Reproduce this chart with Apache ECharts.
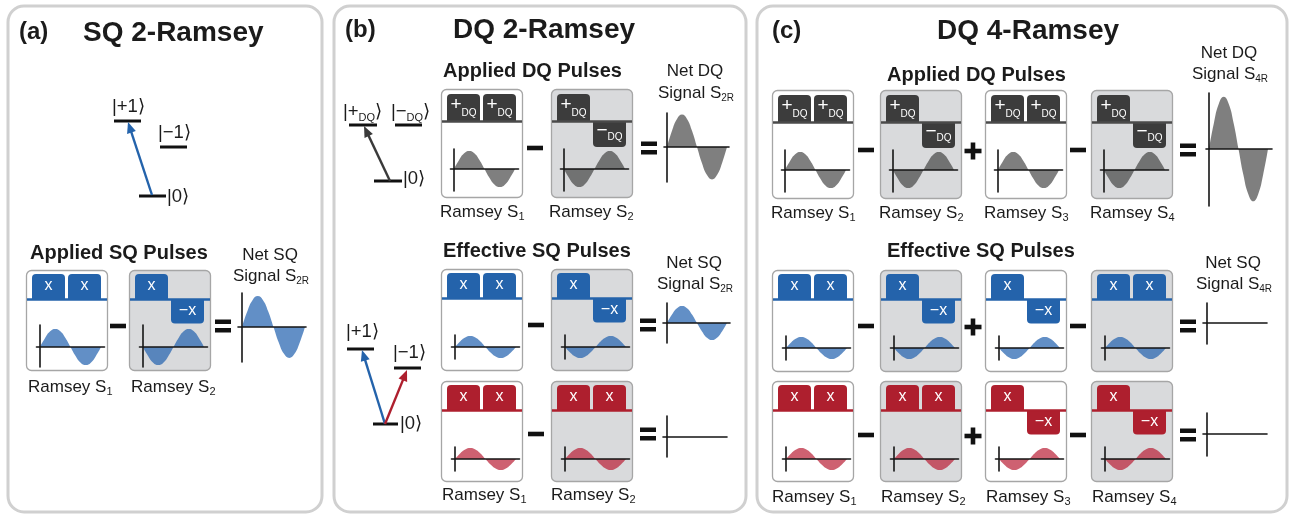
<!DOCTYPE html>
<html>
<head>
<meta charset="utf-8">
<script src="https://cdn.jsdelivr.net/npm/echarts@6/dist/echarts.min.js"></script>
<style>
  html, body { margin: 0; padding: 0; background: #fff; }
  #chart { width: 1292px; height: 515px; }
</style>
</head>
<body>
<div id="chart"></div>
<script>
// Phase samples along one fringe period (twelfths of a period)
const phase = [0, 1, 2, 3, 4, 5, 6, 7, 8, 9, 10, 11, 12];

// Ramsey fringe traces, in units of one single-sequence fringe amplitude
const ramseyUp   = [0, 0.5, 0.87, 1, 0.87, 0.5, 0, -0.5, -0.87, -1, -0.87, -0.5, 0];
const ramseyDown = [0, -0.5, -0.87, -1, -0.87, -0.5, 0, 0.5, 0.87, 1, 0.87, 0.5, 0];
const effUp      = [0, 0.31, 0.53, 0.61, 0.53, 0.31, 0, -0.31, -0.53, -0.61, -0.53, -0.31, 0];
const effDown    = [0, -0.31, -0.53, -0.61, -0.53, -0.31, 0, 0.31, 0.53, 0.61, 0.53, 0.31, 0];
const netSQ2Ra   = [0, 0.86, 1.49, 1.72, 1.49, 0.86, 0, -0.86, -1.49, -1.72, -1.49, -0.86, 0];
const netDQ2R    = [0, 0.9, 1.56, 1.8, 1.56, 0.9, 0, -0.9, -1.56, -1.8, -1.56, -0.9, 0];
const netSQ2Rb   = [0, 0.47, 0.82, 0.95, 0.82, 0.47, 0, -0.47, -0.82, -0.95, -0.82, -0.47, 0];
const netDQ4R    = [0, 1.45, 2.51, 2.9, 2.51, 1.45, 0, -1.45, -2.51, -2.9, -2.51, -1.45, 0];
const netNull    = [0, 0, 0, 0, 0, 0, 0, 0, 0, 0, 0, 0, 0];

// Pulse sequences of each Ramsey measurement, and the traces they give
const seqA      = [['x', 'x'], ['x', '−x']];
const traceA    = [ramseyUp, ramseyDown];
const seqB_DQ   = [['+DQ', '+DQ'], ['+DQ', '−DQ']];
const traceB_DQ = [ramseyUp, ramseyDown];
const seqB_blue = [['x', 'x'], ['x', '−x']];
const traceB_blue = [effUp, effDown];
const seqB_red  = [['x', 'x'], ['x', 'x']];
const traceB_red = [effUp, effUp];
const seqC_DQ   = [['+DQ', '+DQ'], ['+DQ', '−DQ'], ['+DQ', '+DQ'], ['+DQ', '−DQ']];
const traceC_DQ = [ramseyUp, ramseyDown, ramseyUp, ramseyDown];
const seqC_blue = [['x', 'x'], ['x', '−x'], ['x', '−x'], ['x', 'x']];
const traceC_blue = [effUp, effDown, effDown, effUp];
const seqC_red  = [['x', 'x'], ['x', 'x'], ['x', '−x'], ['x', '−x']];
const traceC_red = [effUp, effUp, effDown, effDown];
const ops2 = ['−', '='];
const ops4 = ['−', '+', '−', '='];

const FONT = '"Liberation Sans", Arial, Helvetica, "DejaVu Sans", sans-serif';
const TXT = '#1b1b1b';
const COL = { blue: '#2463ab', red: '#ae1f2e', dark: '#3c3c3c' };
const LINECOL = { blue: '#2463ab', red: '#ae1f2e', dark: '#4a4a4a' };
const FILL = { blue: 'rgba(38,100,176,0.72)', red: 'rgba(185,30,52,0.70)', dark: 'rgba(55,55,55,0.64)' };
const AMP = 18; // pixels per fringe-amplitude unit

const G = [];
const grids = [], xAxes = [], yAxes = [], series = [];

const mctx = document.createElement('canvas').getContext('2d');
function tw(str, size, bold) {
  mctx.font = (bold ? 'bold ' : '') + size + 'px ' + FONT;
  return mctx.measureText(str).width;
}

// text made of runs with their own size and vertical offset (for subscripts)
function runs(x, y, parts, opt) {
  opt = opt || {};
  const widths = parts.map(p => tw(p.t, p.s, p.b));
  const total = widths.reduce((a, b) => a + b, 0);
  let cx = opt.align === 'center' ? x - total / 2 : x;
  parts.forEach((p, i) => {
    G.push({
      type: 'text', z: 20, silent: true,
      style: {
        text: p.t, x: cx, y: y + (p.dy || 0),
        fontSize: p.s, fontFamily: FONT, fontWeight: p.b ? 'bold' : 'normal',
        fill: opt.color || TXT,
        align: 'left', verticalAlign: 'middle', textAlign: 'left', textVerticalAlign: 'middle'
      }
    });
    cx += widths[i];
  });
}

function rect(x, y, w, h, fill, r, z, stroke, lw) {
  G.push({
    type: 'rect', z: z || 1, silent: true,
    shape: { x: x, y: y, width: w, height: h, r: r || 0 },
    style: { fill: fill, stroke: stroke || null, lineWidth: lw || 0 }
  });
}

function line(x1, y1, x2, y2, color, lw, z) {
  G.push({ type: 'line', z: z || 3, silent: true, shape: { x1, y1, x2, y2 }, style: { stroke: color, lineWidth: lw } });
}

function arrow(x1, y1, x2, y2, color) {
  const dx = x2 - x1, dy = y2 - y1, len = Math.hypot(dx, dy);
  const ux = dx / len, uy = dy / len, hl = 11, hw = 4.6;
  const bx = x2 - ux * hl, by = y2 - uy * hl;
  line(x1, y1, bx + ux * 2, by + uy * 2, color, 2.4, 3);
  G.push({
    type: 'polygon', z: 3, silent: true,
    shape: { points: [[x2, y2], [bx - uy * hw, by + ux * hw], [bx + uy * hw, by - ux * hw]] },
    style: { fill: color }
  });
}

// one small fringe plot with crossing axes
function plot(X0, Y0, W, L, R, U, D, trace, fill) {
  const i = grids.length;
  const unitX = W / (phase.length - 1);
  grids.push({ left: X0 - L, top: Y0 - U, width: L + W + R, height: U + D });
  const axisBase = {
    gridIndex: i, type: 'value', z: 10,
    axisLine: { show: true, onZero: true, lineStyle: { color: '#151515', width: 1.6 } },
    axisTick: { show: false }, axisLabel: { show: false }, splitLine: { show: false }
  };
  xAxes.push(Object.assign({}, axisBase, { min: -L / unitX, max: (W + R) / unitX }));
  yAxes.push(Object.assign({}, axisBase, { min: -D / AMP, max: U / AMP }));
  series.push({
    type: 'line', xAxisIndex: i, yAxisIndex: i, z: 6,
    data: phase.map((p, k) => [p, trace[k]]),
    smooth: true, symbol: 'none', silent: true,
    lineStyle: { width: 0, opacity: 0 },
    areaStyle: { color: fill, opacity: 1 }
  });
}

function tabLabel(cx, cy, label) {
  if (label === '+DQ' || label === '−DQ') {
    const up = label === '+DQ';
    runs(cx, cy, [{ t: label[0], s: 19, dy: -3 }, { t: 'DQ', s: 10, dy: up ? 5.5 : 3 }], { align: 'center', color: '#fff' });
  } else {
    runs(cx, cy, [{ t: label, s: 16, dy: -1 }], { align: 'center', color: '#fff' });
  }
}

const KIND = {
  sqA: { tabTop: 4, lineY: 29.5, low: 53.5, wx: 14, wy: 77, U: 22, D: 20 },
  eff: { tabTop: 4, lineY: 29.5, low: 53.5, wx: 14, wy: 78, U: 12, D: 12 },
  dq:  { tabTop: 5, lineY: 32.5, low: 58,   wx: 13, wy: 80, U: 20, D: 22 }
};

function ramseyBox(bx, by, h, kindName, seq, trace, tone, gray) {
  const k = KIND[kindName], w = 81;
  rect(bx + 0.5, by + 0.5, w, h, gray ? '#d9dadc' : '#ffffff', 5, 1, '#a6a6a6', 1.3);
  const tCol = COL[tone];
  // first pulse
  rect(bx + 6, by + k.tabTop, 33, k.lineY - k.tabTop, tCol, [4, 4, 0, 0], 2);
  tabLabel(bx + 22.5, by + (k.tabTop + k.lineY) / 2, seq[0]);
  // second pulse: above the line if positive, hanging below if negative
  const neg = seq[1][0] === '−';
  if (neg) {
    rect(bx + 42, by + k.lineY, 33, k.low - k.lineY, tCol, [0, 0, 4, 4], 2);
    tabLabel(bx + 58.5, by + (k.lineY + k.low) / 2, seq[1]);
  } else {
    rect(bx + 42, by + k.tabTop, 33, k.lineY - k.tabTop, tCol, [4, 4, 0, 0], 2);
    tabLabel(bx + 58.5, by + (k.tabTop + k.lineY) / 2, seq[1]);
  }
  rect(bx + 1, by + k.lineY - 1.25, w - 1, 2.5, LINECOL[tone], 0, 2);
  plot(bx + k.wx, by + k.wy, 61, 3.5, 3.5, k.U, k.D, trace, FILL[tone]);
}

function operator(cx, cy, sym) {
  if (sym === '−') rect(cx - 8, cy - 2.3, 16, 4.6, '#111', 0, 4);
  if (sym === '=') { rect(cx - 8, cy - 6.5, 16, 4.5, '#111', 0, 4); rect(cx - 8, cy + 2, 16, 4.5, '#111', 0, 4); }
  if (sym === '+') { rect(cx - 8.5, cy - 2.3, 17, 4.6, '#111', 0, 4); rect(cx - 2.3, cy - 8.5, 4.6, 17, '#111', 0, 4); }
}

function row(xs, by, h, kindName, seqs, traces, tone, opsX, opsY, ops) {
  xs.forEach((bx, i) => ramseyBox(bx, by, h, kindName, seqs[i], traces[i], tone, i % 2 === 1));
  opsX.forEach((ox, i) => operator(ox, opsY + (ops[i] === '+' ? 1 : 0), ops[i]));
}

function ramseyLabels(xs, y) {
  xs.forEach((bx, i) => runs(bx, y, [{ t: 'Ramsey S', s: 17 }, { t: String(i + 1), s: 11, dy: 5 }]));
}

function netLabel(cx, y, kindTxt, sub) {
  runs(cx, y, [{ t: 'Net ' + kindTxt, s: 17 }], { align: 'center' });
  runs(cx + 1, y + 21.5, [{ t: 'Signal S', s: 17 }, { t: sub, s: 10, dy: 5 }], { align: 'center' });
}

function ket(x, y, parts) { runs(x, y, parts); }
const KET = s => [{ t: s, s: 18.5 }];
const KETDQ = sign => [{ t: '|' + sign, s: 18.5 }, { t: 'DQ', s: 11, dy: 6 }, { t: '⟩', s: 18.5 }];

// ---------- panel frames ----------
[[8, 314], [334, 412], [757, 530]].forEach(([x, w]) => {
  G.push({ type: 'rect', z: 0, silent: true, shape: { x: x, y: 6, width: w, height: 506, r: 16 },
    style: { fill: 'none', stroke: '#d0d0d0', lineWidth: 3 } });
});

// ---------- titles ----------
runs(19, 32, [{ t: '(a)', s: 24, b: true }]);
runs(83, 33, [{ t: 'SQ 2-Ramsey', s: 28, b: true }]);
runs(345, 30, [{ t: '(b)', s: 24, b: true }]);
runs(453, 30, [{ t: 'DQ 2-Ramsey', s: 28, b: true }]);
runs(772, 31, [{ t: '(c)', s: 24, b: true }]);
runs(937, 31, [{ t: 'DQ 4-Ramsey', s: 28, b: true }]);

// ---------- (a) SQ 2-Ramsey ----------
line(114, 121, 141, 121, '#111', 3);
line(160, 147, 187, 147, '#111', 3);
line(139, 196, 166, 196, '#111', 3);
ket(112, 107, KET('|+1⟩'));
ket(158, 133, KET('|−1⟩'));
ket(167, 197, KET('|0⟩'));
arrow(152, 195, 128, 122, COL.blue);

runs(30, 253.5, [{ t: 'Applied SQ Pulses', s: 20, b: true }]);
row([26, 129], 270, 100, 'sqA', seqA, traceA, 'blue', [118, 223], 326, ops2);
plot(242, 327, 63, 4, 1, 34, 35, netSQ2Ra, FILL.blue);
netLabel(270, 255, 'SQ', '2R');
ramseyLabels([28, 131], 387);

// ---------- (b) DQ 2-Ramsey ----------
line(349, 125, 377, 125, '#111', 3);
line(395, 125, 422, 125, '#111', 3);
line(374, 181, 402, 181, '#111', 3);
ket(343, 112, KETDQ('+'));
ket(391, 112, KETDQ('−'));
ket(403, 179, KET('|0⟩'));
arrow(390, 181, 364, 126, '#3a3a3a');

runs(443, 71.5, [{ t: 'Applied DQ Pulses', s: 20, b: true }]);
row([441, 551], 89, 108, 'dq', seqB_DQ, traceB_DQ, 'dark', [535, 649], 148, ops2);
plot(667, 147, 60, 3, 2, 34, 35, netDQ2R, FILL.dark);
netLabel(695, 71.5, 'DQ', '2R');
ramseyLabels([440, 549], 212);

line(347, 349, 374, 349, '#111', 3);
line(394, 368, 421, 368, '#111', 3);
line(373, 424, 398, 424, '#111', 3);
ket(346, 332, KET('|+1⟩'));
ket(393, 353, KET('|−1⟩'));
ket(400, 424, KET('|0⟩'));
arrow(385, 424, 362, 350, COL.blue);
arrow(385, 424, 407, 370, COL.red);

runs(443, 251, [{ t: 'Effective SQ Pulses', s: 20, b: true }]);
row([441, 551], 269, 101, 'eff', seqB_blue, traceB_blue, 'blue', [536, 648], 325, ops2);
plot(667, 323, 60, 4, 3, 20, 20, netSQ2Rb, FILL.blue);
netLabel(694, 263, 'SQ', '2R');
row([441, 551], 381, 100, 'eff', seqB_red, traceB_red, 'red', [536, 648], 434, ops2);
plot(667, 437, 60, 4, 0, 21, 20, netNull, FILL.red);
ramseyLabels([442, 551], 495);

// ---------- (c) DQ 4-Ramsey ----------
const xsC = [772, 880, 985, 1091];
const opsXC = [866, 973, 1078, 1188];
runs(887, 75, [{ t: 'Applied DQ Pulses', s: 20, b: true }]);
row(xsC, 90, 108, 'dq', seqC_DQ, traceC_DQ, 'dark', opsXC, 150, ops4);
plot(1209, 149, 59, 3, 4, 56, 57, netDQ4R, FILL.dark);
netLabel(1229, 53, 'DQ', '4R');
ramseyLabels([771, 879, 984, 1090], 213);

runs(887, 251, [{ t: 'Effective SQ Pulses', s: 20, b: true }]);
row(xsC, 270, 101, 'eff', seqC_blue, traceC_blue, 'blue', opsXC, 326, ops4);
plot(1207, 323, 60, 4, 0, 20, 21, netNull, FILL.blue);
netLabel(1233, 263, 'SQ', '4R');
row(xsC, 381, 100, 'eff', seqC_red, traceC_red, 'red', opsXC, 435, ops4);
plot(1207, 434, 60, 4, 0, 21, 22, netNull, FILL.red);
ramseyLabels([772, 881, 986, 1092], 497);

const chart = echarts.init(document.getElementById('chart'), null, { renderer: 'canvas' });
chart.setOption({
  animation: false,
  backgroundColor: '#ffffff',
  grid: grids,
  xAxis: xAxes,
  yAxis: yAxes,
  series: series,
  graphic: { elements: G }
});
</script>
</body>
</html>
